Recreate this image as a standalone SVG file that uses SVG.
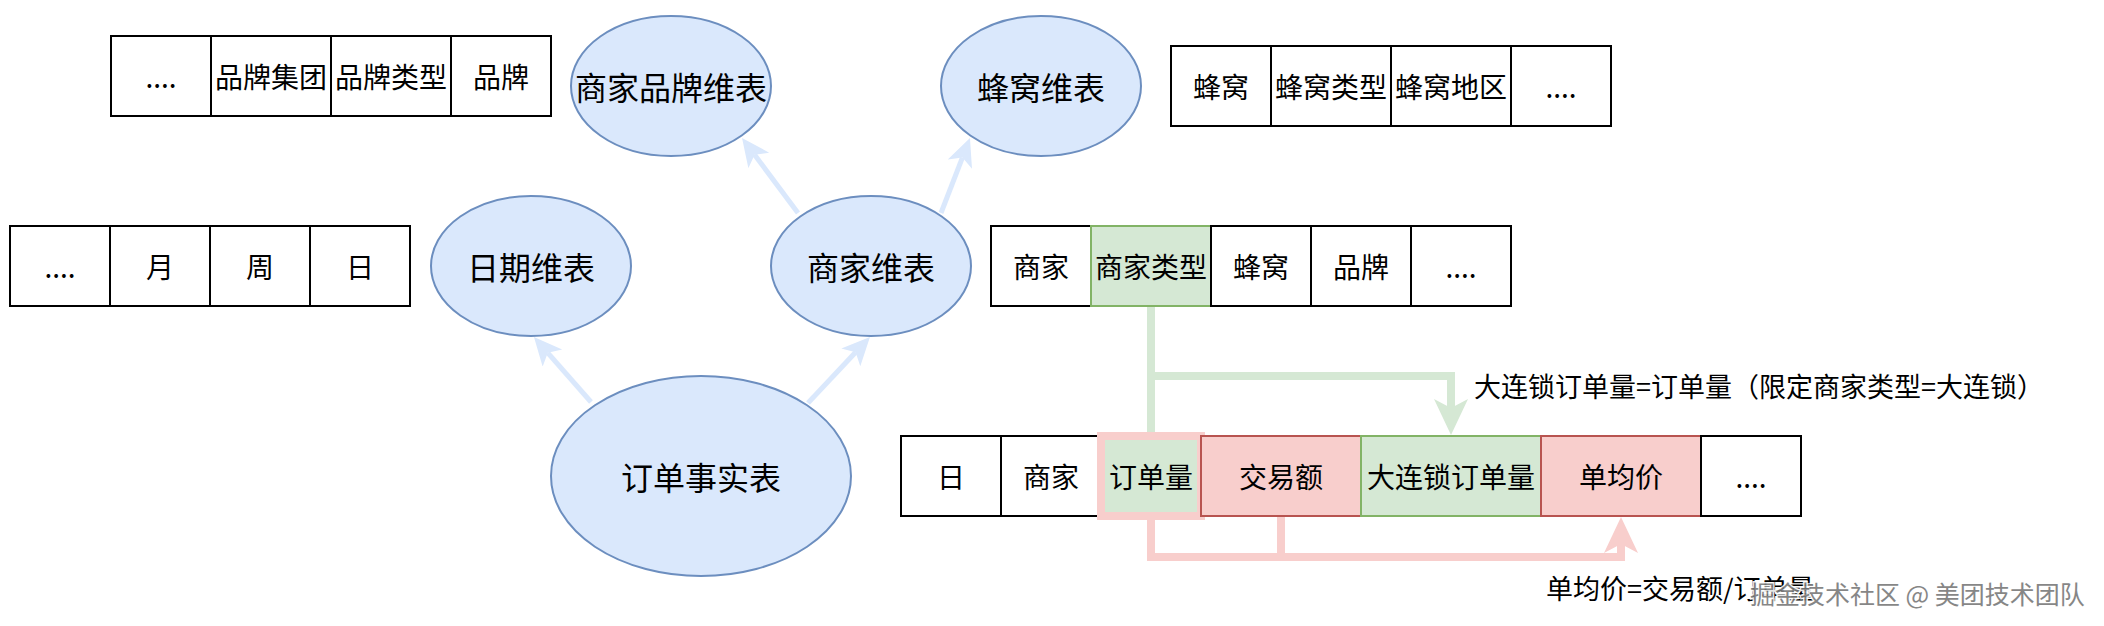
<svg xmlns="http://www.w3.org/2000/svg" width="2104" height="626" viewBox="0 0 2104 626">
<style>
text{font-family:"Noto Sans CJK SC","Noto Sans",sans-serif;fill:#000;text-anchor:middle;dominant-baseline:central}
.cell{fill:#fff;stroke:#000;stroke-width:2}
.g{fill:#d5e8d4;stroke:#82b366;stroke-width:2}
.r{fill:#f8cecc;stroke:#b85450;stroke-width:2}
.ell{fill:#dae8fc;stroke:#6c8ebf;stroke-width:2}
.t{font-size:28px}
.et{font-size:32px}
.lbl{font-size:27px;text-anchor:start}
.blue{fill:none;stroke:#dae8fc;stroke-width:5;marker-end:url(#ab)}
.gl{fill:none;stroke:#d5e8d4;stroke-width:8}
.pl{fill:none;stroke:#f8cecc;stroke-width:8}
</style>
<defs>
<marker id="ab" markerUnits="userSpaceOnUse" markerWidth="30" markerHeight="28" refX="7" refY="13" orient="auto"><path d="M0,0 L28,13 L0,26 L7,13 Z" fill="#dae8fc"/></marker>
<marker id="ag" markerUnits="userSpaceOnUse" markerWidth="38" markerHeight="36" refX="9" refY="17" orient="auto"><path d="M0,0 L36,17 L0,34 L9,17 Z" fill="#d5e8d4"/></marker>
<marker id="ap" markerUnits="userSpaceOnUse" markerWidth="38" markerHeight="36" refX="9" refY="17" orient="auto"><path d="M0,0 L36,17 L0,34 L9,17 Z" fill="#f8cecc"/></marker>
</defs>
<rect width="2104" height="626" fill="#fff"/>
<g id="connectors">
<path class="blue" d="M798,213 L754.6,154.8"/>
<path class="blue" d="M941,213 L962.4,157.6"/>
<path class="blue" d="M591,402 L547.8,352.8"/>
<path class="blue" d="M808,403 L855.6,352.3"/>
<path class="gl" d="M1151,306 V432"/>
<path class="gl" d="M1151,376 H1451 V408" marker-end="url(#ag)"/>
<path class="pl" d="M1151,520 V557 H1621 V544" marker-end="url(#ap)"/>
<path class="pl" d="M1281,516 V557"/>
</g>
<g id="brand-table">
<rect class="cell" x="111" y="36" width="100" height="80"/><text class="t" x="161" y="76">....</text>
<rect class="cell" x="211" y="36" width="120" height="80"/><text class="t" x="271" y="76">品牌集团</text>
<rect class="cell" x="331" y="36" width="120" height="80"/><text class="t" x="391" y="76">品牌类型</text>
<rect class="cell" x="451" y="36" width="100" height="80"/><text class="t" x="501" y="76">品牌</text>
</g>
<g id="date-table">
<rect class="cell" x="10" y="226" width="100" height="80"/><text class="t" x="60" y="266">....</text>
<rect class="cell" x="110" y="226" width="100" height="80"/><text class="t" x="160" y="266">月</text>
<rect class="cell" x="210" y="226" width="100" height="80"/><text class="t" x="260" y="266">周</text>
<rect class="cell" x="310" y="226" width="100" height="80"/><text class="t" x="360" y="266">日</text>
</g>
<g id="hive-table">
<rect class="cell" x="1171" y="46" width="100" height="80"/><text class="t" x="1221" y="86">蜂窝</text>
<rect class="cell" x="1271" y="46" width="120" height="80"/><text class="t" x="1331" y="86">蜂窝类型</text>
<rect class="cell" x="1391" y="46" width="120" height="80"/><text class="t" x="1451" y="86">蜂窝地区</text>
<rect class="cell" x="1511" y="46" width="100" height="80"/><text class="t" x="1561" y="86">....</text>
</g>
<g id="merchant-table">
<rect class="cell" x="991" y="226" width="100" height="80"/><text class="t" x="1041" y="266">商家</text>
<rect class="g" x="1091" y="226" width="120" height="80"/><text class="t" x="1151" y="266">商家类型</text>
<rect class="cell" x="1211" y="226" width="100" height="80"/><text class="t" x="1261" y="266">蜂窝</text>
<rect class="cell" x="1311" y="226" width="100" height="80"/><text class="t" x="1361" y="266">品牌</text>
<rect class="cell" x="1411" y="226" width="100" height="80"/><text class="t" x="1461" y="266">....</text>
</g>
<g id="order-table">
<rect class="cell" x="901" y="436" width="100" height="80"/><text class="t" x="951" y="476">日</text>
<rect class="cell" x="1001" y="436" width="100" height="80"/><text class="t" x="1051" y="476">商家</text>
<rect x="1101" y="436" width="100" height="80" fill="#d5e8d4" stroke="#f8cecc" stroke-width="8"/><text class="t" x="1151" y="476">订单量</text>
<rect class="r" x="1201" y="436" width="160" height="80"/><text class="t" x="1281" y="476">交易额</text>
<rect class="g" x="1361" y="436" width="180" height="80"/><text class="t" x="1451" y="476">大连锁订单量</text>
<rect class="r" x="1541" y="436" width="160" height="80"/><text class="t" x="1621" y="476">单均价</text>
<rect class="cell" x="1701" y="436" width="100" height="80"/><text class="t" x="1751" y="476">....</text>
</g>
<g id="brand-dim"><ellipse class="ell" cx="671" cy="86" rx="100" ry="70"/><text class="et" x="671" y="86">商家品牌维表</text></g>
<g id="hive-dim"><ellipse class="ell" cx="1041" cy="86" rx="100" ry="70"/><text class="et" x="1041" y="86">蜂窝维表</text></g>
<g id="date-dim"><ellipse class="ell" cx="531" cy="266" rx="100" ry="70"/><text class="et" x="531" y="266">日期维表</text></g>
<g id="merchant-dim"><ellipse class="ell" cx="871" cy="266" rx="100" ry="70"/><text class="et" x="871" y="266">商家维表</text></g>
<g id="order-fact"><ellipse class="ell" cx="701" cy="476" rx="150" ry="100"/><text class="et" x="701" y="476">订单事实表</text></g>
<g id="labels">
<text class="lbl" x="1474" y="385">大连锁订单量=订单量（限定商家类型=大连锁）</text>
<text class="lbl" x="1546" y="587">单均价=交易额/订单量</text>
<text x="1750" y="593" style="font-size:25px;text-anchor:start;fill:#7a7a7a;stroke:#fff;stroke-width:3;paint-order:stroke;opacity:0.9">掘金技术社区 @ 美团技术团队</text>
</g>
</svg>
